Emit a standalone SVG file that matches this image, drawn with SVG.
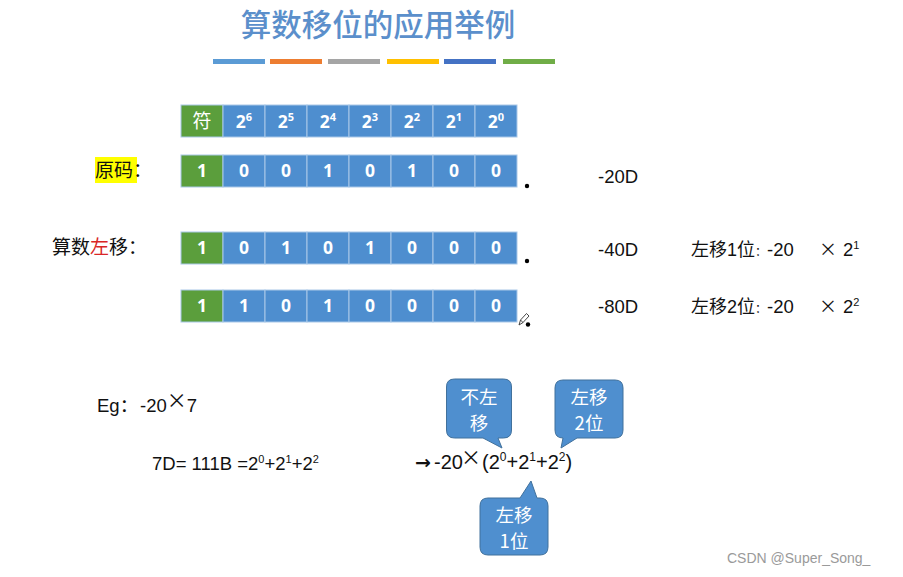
<svg xmlns="http://www.w3.org/2000/svg" width="903" height="577" viewBox="0 0 903 577">
<defs>
<style>
.bg{fill:#ffffff}
.title{font-family:"Noto Sans CJK SC","Noto Sans",sans-serif;font-size:30.5px;fill:#5B8FCB;font-weight:500}
.cb{fill:#4E8ECF;stroke:#A9C8E8;stroke-width:1}
.cg{fill:#5B9E3C;stroke:#A9C8E8;stroke-width:1}
.ct{font-family:"Noto Sans","Liberation Sans",sans-serif;font-weight:bold;font-size:17.5px;fill:#ffffff;text-anchor:middle}
.ctc{font-family:"Noto Sans CJK SC",sans-serif;font-size:19px;fill:#ffffff;text-anchor:middle}
.t{font-family:"Liberation Sans","Noto Sans CJK SC",sans-serif;font-size:18.5px;fill:#111111}
.cn{font-family:"Noto Sans CJK SC",sans-serif;font-size:18px;fill:#111111}
.bub{fill:#4F8FCF;stroke:#41719C;stroke-width:1}
.bt{font-family:"Noto Sans CJK SC",sans-serif;font-size:18.5px;fill:#ffffff;text-anchor:middle}
.wm{font-family:"Liberation Sans",sans-serif;font-size:14px;fill:#9a9a9a}
</style>
</defs>
<rect class="bg" x="0" y="0" width="903" height="577"/>

<g id="title">
<text class="title" x="378" y="36" text-anchor="middle">算数移位的应用举例</text>
<rect x="213" y="59" width="52" height="5" fill="#5B9BD5"/>
<rect x="270" y="59" width="52" height="5" fill="#ED7D31"/>
<rect x="328" y="59" width="52" height="5" fill="#A5A5A5"/>
<rect x="387" y="59" width="52" height="5" fill="#FFC000"/>
<rect x="444" y="59" width="52" height="5" fill="#4472C4"/>
<rect x="503" y="59" width="52" height="5" fill="#70AD47"/>
</g>

<g id="header-row">
<rect class="cg" x="181" y="105" width="42" height="32"/>
<rect class="cb" x="223" y="105" width="42" height="32"/>
<rect class="cb" x="265" y="105" width="42" height="32"/>
<rect class="cb" x="307" y="105" width="42" height="32"/>
<rect class="cb" x="349" y="105" width="42" height="32"/>
<rect class="cb" x="391" y="105" width="42" height="32"/>
<rect class="cb" x="433" y="105" width="42" height="32"/>
<rect class="cb" x="475" y="105" width="42" height="32"/>
<text class="ctc" x="202" y="128">符</text>
<text class="ct" x="244" y="128">2<tspan font-size="11" dy="-7">6</tspan></text>
<text class="ct" x="286" y="128">2<tspan font-size="11" dy="-7">5</tspan></text>
<text class="ct" x="328" y="128">2<tspan font-size="11" dy="-7">4</tspan></text>
<text class="ct" x="370" y="128">2<tspan font-size="11" dy="-7">3</tspan></text>
<text class="ct" x="412" y="128">2<tspan font-size="11" dy="-7">2</tspan></text>
<text class="ct" x="454" y="128">2<tspan font-size="11" dy="-7">1</tspan></text>
<text class="ct" x="496" y="128">2<tspan font-size="11" dy="-7">0</tspan></text>
</g>

<g id="label-original">
<rect x="95" y="157" width="42" height="26" fill="#FFFF00"/>
<text class="cn" x="95" y="177" style="font-size:19px">原码：</text>
</g>

<g id="row-original">
<rect class="cg" x="181" y="155" width="42" height="32"/>
<rect class="cb" x="223" y="155" width="42" height="32"/>
<rect class="cb" x="265" y="155" width="42" height="32"/>
<rect class="cb" x="307" y="155" width="42" height="32"/>
<rect class="cb" x="349" y="155" width="42" height="32"/>
<rect class="cb" x="391" y="155" width="42" height="32"/>
<rect class="cb" x="433" y="155" width="42" height="32"/>
<rect class="cb" x="475" y="155" width="42" height="32"/>
<text class="ct" x="202" y="177">1</text>
<text class="ct" x="244" y="177">0</text>
<text class="ct" x="286" y="177">0</text>
<text class="ct" x="328" y="177">1</text>
<text class="ct" x="370" y="177">0</text>
<text class="ct" x="412" y="177">1</text>
<text class="ct" x="454" y="177">0</text>
<text class="ct" x="496" y="177">0</text>
<circle cx="527" cy="186" r="2.2" fill="#000"/>
</g>

<g id="label-shift">
<text class="cn" x="52" y="254" style="font-size:19px">算数<tspan fill="#D92626">左</tspan>移：</text>
</g>

<g id="row-shift1">
<rect class="cg" x="181" y="232" width="42" height="32"/>
<rect class="cb" x="223" y="232" width="42" height="32"/>
<rect class="cb" x="265" y="232" width="42" height="32"/>
<rect class="cb" x="307" y="232" width="42" height="32"/>
<rect class="cb" x="349" y="232" width="42" height="32"/>
<rect class="cb" x="391" y="232" width="42" height="32"/>
<rect class="cb" x="433" y="232" width="42" height="32"/>
<rect class="cb" x="475" y="232" width="42" height="32"/>
<text class="ct" x="202" y="254">1</text>
<text class="ct" x="244" y="254">0</text>
<text class="ct" x="286" y="254">1</text>
<text class="ct" x="328" y="254">0</text>
<text class="ct" x="370" y="254">1</text>
<text class="ct" x="412" y="254">0</text>
<text class="ct" x="454" y="254">0</text>
<text class="ct" x="496" y="254">0</text>
<circle cx="527" cy="261" r="2.2" fill="#000"/>
</g>

<g id="row-shift2">
<rect class="cg" x="181" y="290" width="42" height="32"/>
<rect class="cb" x="223" y="290" width="42" height="32"/>
<rect class="cb" x="265" y="290" width="42" height="32"/>
<rect class="cb" x="307" y="290" width="42" height="32"/>
<rect class="cb" x="349" y="290" width="42" height="32"/>
<rect class="cb" x="391" y="290" width="42" height="32"/>
<rect class="cb" x="433" y="290" width="42" height="32"/>
<rect class="cb" x="475" y="290" width="42" height="32"/>
<text class="ct" x="202" y="312">1</text>
<text class="ct" x="244" y="312">1</text>
<text class="ct" x="286" y="312">0</text>
<text class="ct" x="328" y="312">1</text>
<text class="ct" x="370" y="312">0</text>
<text class="ct" x="412" y="312">0</text>
<text class="ct" x="454" y="312">0</text>
<text class="ct" x="496" y="312">0</text>
<path d="M519 325 L520.5 320 L526.5 313.5 L529 316 L523 322.5 Z M520.5 320 L523 322.5" fill="#fff" stroke="#333" stroke-width="0.9"/>
<circle cx="528" cy="324.5" r="2.2" fill="#000"/>
</g>

<g id="values">
<text class="t" x="598" y="183">-20D</text>
<text class="t" x="598" y="256">-40D</text>
<text class="t" x="598" y="313">-80D</text>
<text class="cn" x="691" y="256">左移<tspan font-family="Liberation Sans">1</tspan>位<tspan font-size="12">：</tspan><tspan font-family="Liberation Sans" font-size="18.5" x="767">-20</tspan><tspan x="819">×</tspan><tspan font-family="Liberation Sans" font-size="18.5" x="843">2</tspan><tspan font-family="Liberation Sans" font-size="11" dy="-7">1</tspan></text>
<text class="cn" x="691" y="313">左移<tspan font-family="Liberation Sans">2</tspan>位<tspan font-size="12">：</tspan><tspan font-family="Liberation Sans" font-size="18.5" x="767">-20</tspan><tspan x="819">×</tspan><tspan font-family="Liberation Sans" font-size="18.5" x="843">2</tspan><tspan font-family="Liberation Sans" font-size="11" dy="-7">2</tspan></text>
</g>

<g id="example">
<text class="t" x="97" y="412">Eg<tspan font-family="Noto Sans CJK SC">：</tspan><tspan x="140">-20</tspan><tspan font-family="Noto Sans CJK SC" font-size="20" dy="-4">×</tspan><tspan dy="4">7</tspan></text>
<text class="t" x="152" y="470">7D= 111B =2<tspan font-size="11" dy="-7">0</tspan><tspan dy="7">+2</tspan><tspan font-size="11" dy="-7">1</tspan><tspan dy="7">+2</tspan><tspan font-size="11" dy="-7">2</tspan></text>
<text x="415" y="469" font-family="Liberation Sans" font-size="20" fill="#111111"><tspan font-weight="bold" font-family="DejaVu Sans" font-size="19">→</tspan><tspan x="434">-20</tspan><tspan font-family="Noto Sans CJK SC" x="461" font-size="20" dy="-4">×</tspan><tspan x="482" dy="4">(2</tspan><tspan font-size="12" dy="-8">0</tspan><tspan dy="8">+2</tspan><tspan font-size="12" dy="-8">1</tspan><tspan dy="8">+2</tspan><tspan font-size="12" dy="-8">2</tspan><tspan dy="8">)</tspan></text>
</g>

<g id="bubble-no-shift">
<path class="bub" d="M454.5 379 H503.5 Q511.5 379 511.5 387 V430 Q511.5 438 503.5 438 H498 L502 448 L483 438 H454.5 Q446.5 438 446.5 430 V387 Q446.5 379 454.5 379 Z"/>
<text class="bt" x="479" y="404">不左</text>
<text class="bt" x="479" y="430">移</text>
</g>

<g id="bubble-shift2">
<path class="bub" d="M563 380 H615 Q623 380 623 388 V430 Q623 438 615 438 H577 L561 448 L563 438 Q555 438 555 430 V388 Q555 380 563 380 Z"/>
<text class="bt" x="589" y="404">左移</text>
<text class="bt" x="589" y="430">2位</text>
</g>

<g id="bubble-shift1">
<path class="bub" d="M488 498 H520 L531 481 L537 498 H540 Q548 498 548 506 V547 Q548 555 540 555 H488 Q480 555 480 547 V506 Q480 498 488 498 Z"/>
<text class="bt" x="514" y="522">左移</text>
<text class="bt" x="514" y="548">1位</text>
</g>

<g id="connectors"></g>

<text class="wm" x="727" y="563">CSDN @Super_Song_</text>
</svg>
